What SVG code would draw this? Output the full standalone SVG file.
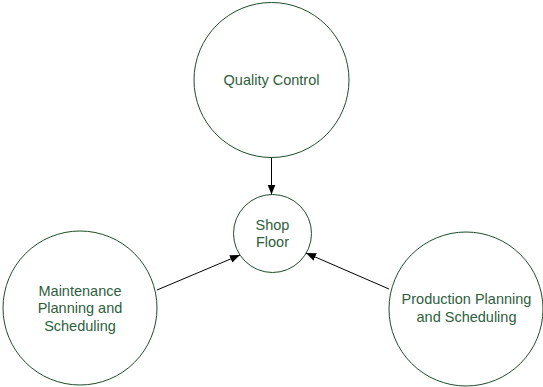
<svg xmlns="http://www.w3.org/2000/svg" width="543" height="387" viewBox="0 0 543 387">
<style>
.node circle{fill:#ffffff;stroke:#1e4d2b;stroke-width:1}
.node text{font-family:"Liberation Sans",Arial,sans-serif;font-size:14.5px;fill:#2e5e3e;text-anchor:middle}
.edge{stroke:#000000;stroke-width:1;fill:none;marker-end:url(#arrow)}
</style>
<defs>
<marker id="arrow" viewBox="0 0 10 10" refX="10" refY="5" markerWidth="10" markerHeight="10" markerUnits="userSpaceOnUse" orient="auto">
<path d="M0,1 L10,5 L0,9 Z" fill="#000000"/>
</marker>
</defs>
<rect width="543" height="387" fill="#ffffff"/>
<g id="quality-control" class="node">
<circle cx="271.5" cy="80" r="77.5"/>
<text x="271.5" y="85">Quality Control</text>
</g>
<g id="shop-floor" class="node">
<circle cx="272.5" cy="233.5" r="39"/>
<text x="272.5" y="230">Shop</text>
<text x="272.5" y="247">Floor</text>
</g>
<g id="maintenance" class="node">
<circle cx="80" cy="308" r="77"/>
<text x="80" y="296">Maintenance</text>
<text x="80" y="313">Planning and</text>
<text x="80" y="331">Scheduling</text>
</g>
<g id="production" class="node">
<circle cx="466" cy="309" r="77"/>
<text x="466.5" y="304">Production Planning</text>
<text x="466.5" y="322">and Scheduling</text>
</g>
<g id="connectors">
<line class="edge" x1="271.5" y1="157.5" x2="271.5" y2="194.5"/>
<line class="edge" x1="157" y1="290" x2="240" y2="255"/>
<line class="edge" x1="389" y1="289" x2="306" y2="253"/>
</g>
</svg>
